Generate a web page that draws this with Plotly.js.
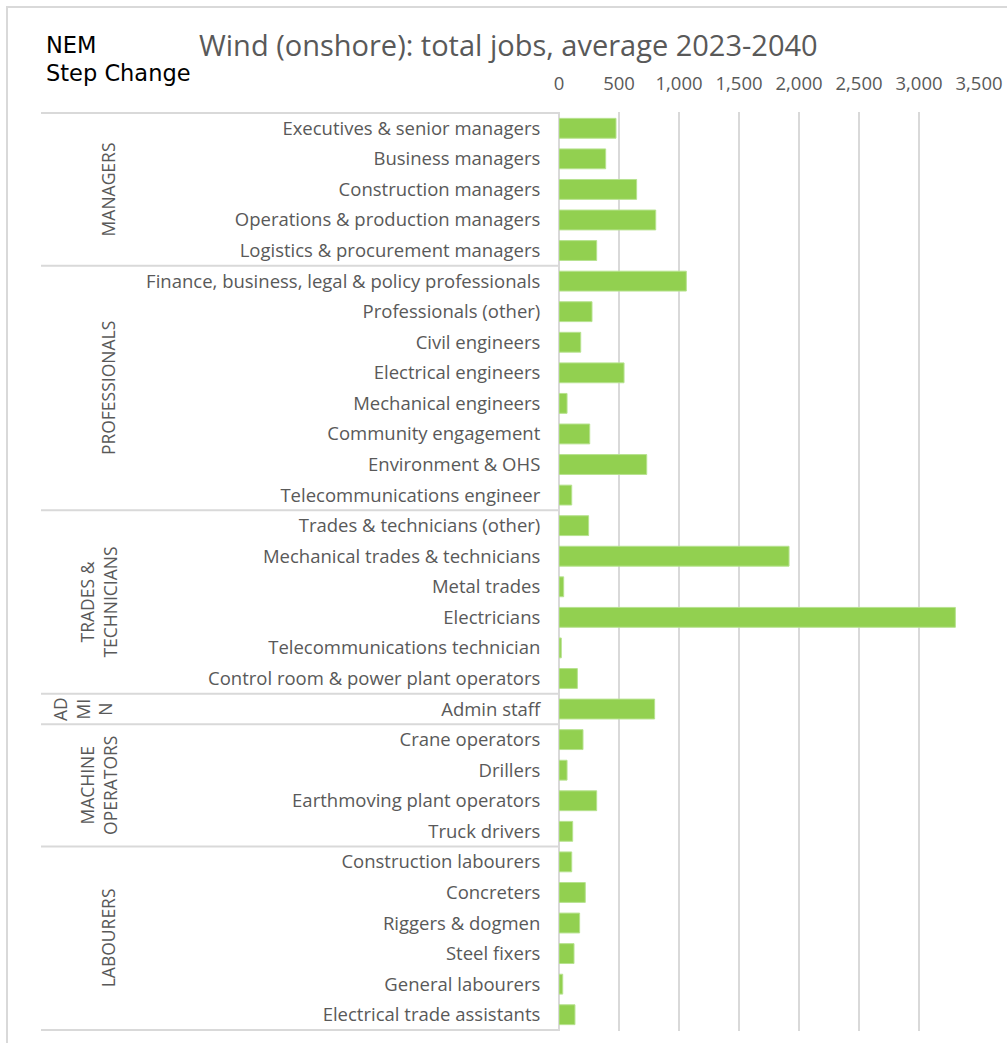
<!DOCTYPE html>
<html>
<head>
<meta charset="utf-8">
<script src="https://cdn.plot.ly/plotly-3.0.1.min.js"></script>
<style>html,body{margin:0;padding:0;background:#fff;}#chart{width:1007px;height:1043px;}</style>
</head>
<body>
<div id="chart"></div>
<script>
const categories = [
  "Executives & senior managers","Business managers","Construction managers","Operations & production managers","Logistics & procurement managers",
  "Finance, business, legal & policy professionals","Professionals (other)","Civil engineers","Electrical engineers","Mechanical engineers","Community engagement","Environment & OHS","Telecommunications engineer",
  "Trades & technicians (other)","Mechanical trades & technicians","Metal trades","Electricians","Telecommunications technician","Control room & power plant operators",
  "Admin staff",
  "Crane operators","Drillers","Earthmoving plant operators","Truck drivers",
  "Construction labourers","Concreters","Riggers & dogmen","Steel fixers","General labourers","Electrical trade assistants"
];
const jobs = [
  475, 389, 647, 806, 314,
  1061, 275, 181, 542, 67, 256, 731, 106,
  247, 1917, 39, 3303, 19, 153,
  797,
  200, 67, 314, 114,
  106, 219, 172, 125, 31, 133
];
const groupNames = ["MANAGERS","PROFESSIONALS","TRADES &<br>TECHNICIANS","AD<br>MI<br>N","MACHINE<br>OPERATORS","LABOURERS"];
const groupSizes = [5, 8, 6, 1, 4, 6];
const xTicks = [0, 500, 1000, 1500, 2000, 2500, 3000, 3500];

// layout geometry (pixels)
const W = 1007, H = 1043;
const L = 559, R = 979, T = 112, B = 1031;
const px2x = p => (p - L) / (R - L);
const py2y = p => (B - p) / (B - T);

const grey = "#595959";
const fontFam = "'Open Sans', 'Noto Sans', sans-serif";

const shapes = [];
const annotations = [];

// outer frame
shapes.push({type:"rect", xref:"paper", yref:"paper", x0:px2x(7), x1:px2x(1012), y0:py2y(1048), y1:py2y(7),
  line:{color:"#d9d9d9", width:2}, fillcolor:"rgba(0,0,0,0)", layer:"below"});

// group separators and labels
let start = 0;
const boundaries = [-0.5];
groupSizes.forEach(n => { start += n; boundaries.push(start - 0.5); });
boundaries.forEach(b => {
  shapes.push({type:"line", xref:"paper", yref:"y", x0:px2x(41), x1:0, y0:b, y1:b,
    line:{color:"#d9d9d9", width:2}});
});
let s = 0;
groupNames.forEach((g, i) => {
  const mid = s + (groupSizes[i] - 1) / 2;
  s += groupSizes[i];
  const nLines = g.split("<br>").length;
  annotations.push({xref:"paper", yref:"y", x:px2x(nLines === 3 ? 83 : (nLines === 2 ? 98.5 : 108)), y:mid,
    text:g, showarrow:false, textangle:-90, xanchor:"center", yanchor:"middle", align:"center",
    font:{family:fontFam, size:17.5, color:grey}});
});

// title & subtitle
annotations.push({xref:"paper", yref:"paper", x:px2x(197), y:py2y(45), xanchor:"left", yanchor:"middle",
  text:"Wind (onshore): total jobs, average 2023-2040", showarrow:false,
  font:{family:fontFam, size:29, color:grey}});
annotations.push({xref:"paper", yref:"paper", x:px2x(44), y:py2y(45), xanchor:"left", yanchor:"middle",
  text:"NEM", showarrow:false, font:{family:"'DejaVu Sans', sans-serif", size:22.5, color:"#000"}});
annotations.push({xref:"paper", yref:"paper", x:px2x(44), y:py2y(73), xanchor:"left", yanchor:"middle",
  text:"Step Change", showarrow:false, font:{family:"'DejaVu Sans', sans-serif", size:22.5, color:"#000"}});

const trace = {
  type:"bar", orientation:"h", y:categories, x:jobs, width:0.65,
  marker:{color:"#92D050", line:{color:"#b7e28f", width:1}},
  hoverinfo:"x+y"
};

const layout = {
  width:W, height:H,
  margin:{l:L, r:W-R, t:T, b:H-B, pad:0},
  paper_bgcolor:"#fff", plot_bgcolor:"#fff",
  showlegend:false,
  font:{family:fontFam, color:grey},
  xaxis:{side:"top", range:[0,3500], tickvals:xTicks, ticktext:xTicks.map(v=>v.toLocaleString("en-US")),
    showgrid:true, gridcolor:"#d9d9d9", gridwidth:2, zeroline:true, zerolinecolor:"#d9d9d9", zerolinewidth:2,
    ticks:"outside", ticklen:14, tickcolor:"rgba(0,0,0,0)", tickfont:{family:fontFam, size:18.5, color:grey},
    fixedrange:true},
  yaxis:{type:"category", autorange:"reversed", showgrid:false, zeroline:false, showline:false,
    ticks:"outside", ticklen:14, tickcolor:"rgba(0,0,0,0)", tickfont:{family:fontFam, size:18.5, color:grey},
    fixedrange:true},
  shapes:shapes, annotations:annotations
};

Plotly.newPlot("chart", [trace], layout, {displayModeBar:false, staticPlot:true});
</script>
</body>
</html>
